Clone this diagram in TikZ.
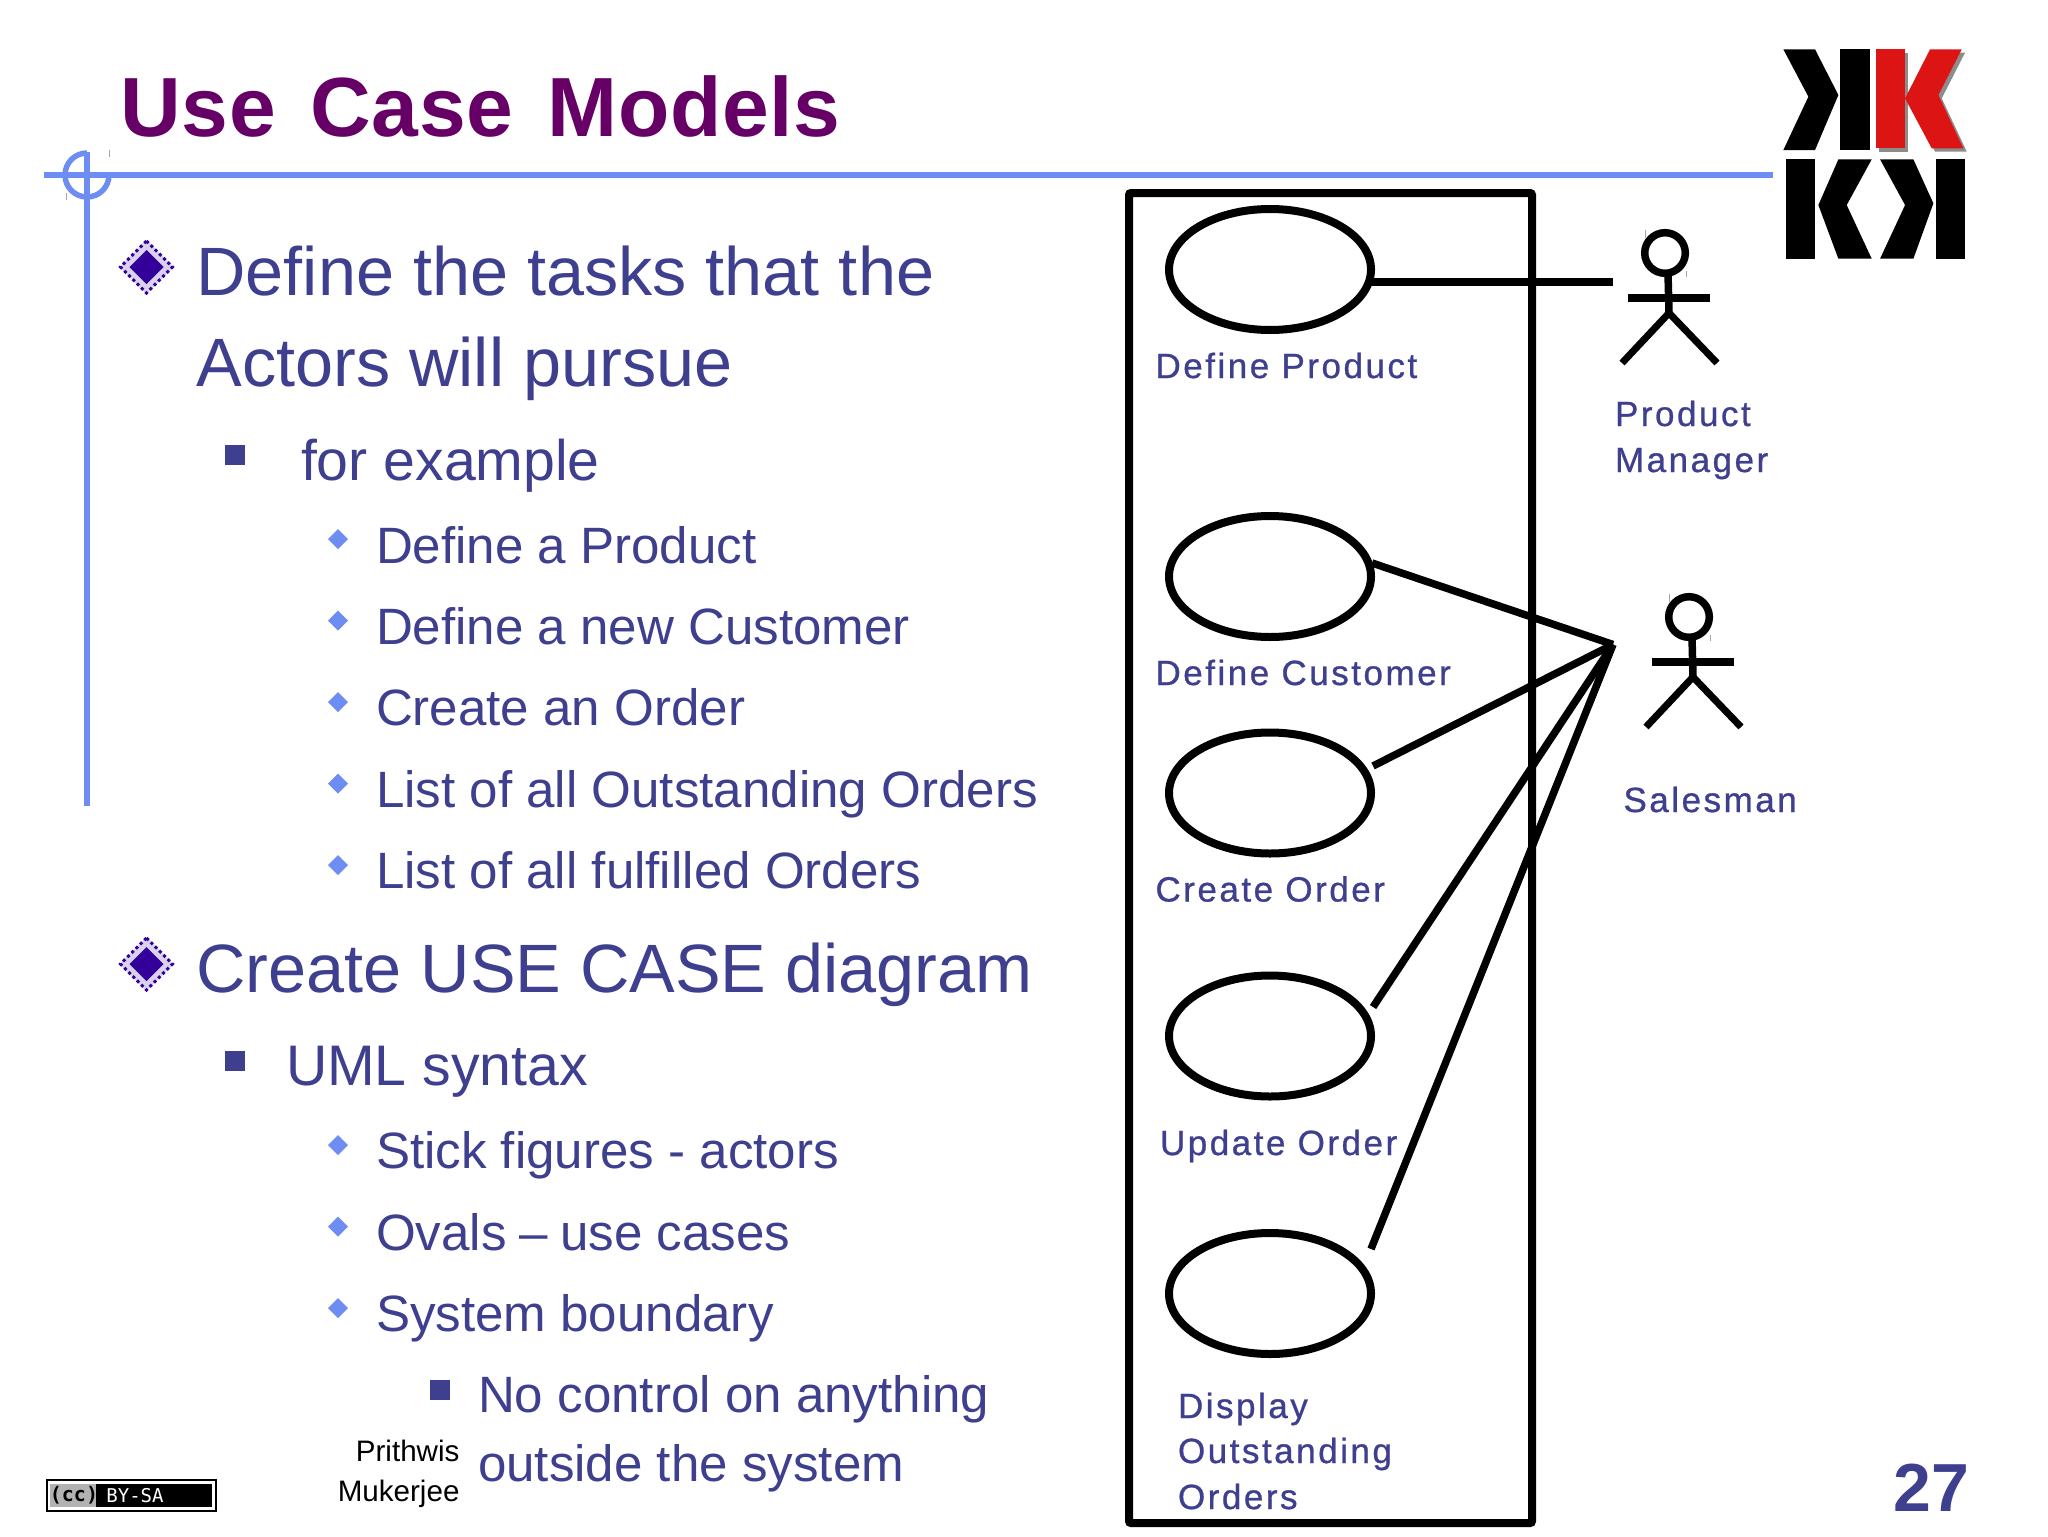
\documentclass[tikz,border=0pt]{standalone}
\usepackage{fontspec}
\setmainfont{Liberation Sans}
\newfontfamily\lblfont[LetterSpace=7.2,FakeBold=0.8]{Liberation Sans}
\newfontfamily\ttlfont[LetterSpace=0.6]{Liberation Sans}
\newfontfamily\ccfont{DejaVu Sans Mono}
\usetikzlibrary{shapes.geometric}
\definecolor{ttl}{HTML}{660066}
\definecolor{body}{HTML}{3F3F8F}
\definecolor{rule}{HTML}{6D8DF2}
\definecolor{dia}{HTML}{6D8DF2}
\definecolor{navy}{HTML}{330099}
\definecolor{logored}{HTML}{DC1414}
\tikzset{
  x=0.5pt,y=-0.5pt,
  txt/.style={anchor=base west,inner sep=0pt,outer sep=0pt,text=body},
  lone/.style={txt,font=\fontsize{34.2}{40}\selectfont},
  ltwo/.style={txt,font=\fontsize{28.6}{34}\selectfont},
  lthree/.style={txt,font=\fontsize{25.55}{30}\selectfont},
  lbl/.style={txt,font=\lblfont\fontsize{17.5}{21}\selectfont},
  foot/.style={anchor=base east,inner sep=0pt,outer sep=0pt,text=black,font=\fontsize{14.8}{18}\selectfont},
  usecase/.style={draw=black,line width=4pt,ellipse,minimum width=101pt,minimum height=60.5pt,inner sep=0pt,outer sep=0pt},
  conn/.style={draw=black,line width=3.75pt},
  bluerule/.style={draw=rule,line width=3pt},
  tick/.style={draw=black!35,line width=0.3pt},
  smalldia/.pic={\fill[dia] (0,-10)--(10,0)--(0,10)--(-10,0)--cycle;},
  sqbullet/.pic={\fill[body] (-10,-10)rectangle(10,10);},
  bigdia/.pic={
    \fill[navy!18] (0,-27)--(27,0)--(0,27)--(-27,0)--cycle;
    \draw[navy,line width=1.5pt,dash pattern=on 1.5pt off 1.5pt] (0,-26)--(26,0)--(0,26)--(-26,0)--cycle;
    \fill[navy] (0,-17)--(17,0)--(0,17)--(-17,0)--cycle;},
  actorfig/.pic={
    \draw[line width=3.75pt,black] (0,0) circle (20.3);
    \draw[line width=3.75pt,black] (3,21)--(4,60);
    \draw[line width=3.75pt,black] (-37,45)--(45,45);
    \draw[line width=3.5pt,black] (-43,110)--(4,60)--(52,110);
    \draw[tick] (-20,-23)--(-20,-15);
    \draw[tick] (21,18)--(21,24);},
}
\begin{document}
\begin{tikzpicture}
\useasboundingbox (0,0) rectangle (2048,1536);
\fill[white] (0,0) rectangle (2048,1536);
% title and rules
\node[anchor=base west,inner sep=0pt,text=ttl,font=\ttlfont\bfseries\fontsize{42}{50}\selectfont] (title) at (120.5,136) {Use\hspace{5.5pt} Case\hspace{5.5pt} Models};
\draw[bluerule] (44,175)--(1773,175);
\draw[bluerule] (87,152)--(87,806);
\draw[bluerule,line width=2.75pt] (87,153) arc[start angle=270,end angle=0,radius=22];
\draw[tick] (109,150)--(109,157);
\draw[tick] (66,193)--(66,200);
% logo
\begin{scope}[shift={(1750,20)},x=0.1667pt,y=-0.1667pt]
\fill[black!45] (388,98)--(475,98)--(475,395)--(388,395)--cycle;
\fill[black!45] (550,98)--(645,98)--(575,235)--(650,395)--(555,395)--(480,245)--cycle;
\fill[black] (100,88)--(195,88)--(265,225)--(195,390)--(100,390)--(175,230)--cycle;
\fill[black] (270,88)rectangle(360,390);
\fill[logored] (378,88)rectangle(465,385);
\fill[logored] (465,235)--(540,88)--(635,88)--(565,225)--(640,385)--(545,385)--cycle;
\fill[black] (108,418)rectangle(195,716);
\fill[black] (365,418)--(265,418)--(205,555)--(265,716)--(365,716)--(290,555)--cycle;
\fill[black] (390,418)--(490,418)--(550,550)--(490,716)--(390,716)--(465,555)--cycle;
\fill[black] (558,418)rectangle(645,716);
\end{scope}
% bullets
\pic at (146.5,267) {bigdia};
\pic at (146.5,964) {bigdia};
\pic at (235,455) {sqbullet};
\pic at (235,1060.5) {sqbullet};
\pic at (439.5,1390) {sqbullet};
\foreach \yy in {539,620.5,702,783.5,865,1145,1226.5,1308} {\pic at (338,\yy) {smalldia};}
% text
\node[lone] (t1) at (196.5,295) {Define the tasks that the};
\node[lone] (t2) at (196.5,386.5) {Actors will pursue};
\node[ltwo] (t3) at (301,480) {for example};
\node[lthree] (t4) at (376,563) {Define a Product};
\node[lthree] (t5) at (376,644) {Define a new Customer};
\node[lthree] (t6) at (376,725.5) {Create an Order};
\node[lthree] (t7) at (376,807) {List of all Outstanding Orders};
\node[lthree] (t8) at (376,888.5) {List of all fulfilled Orders};
\node[lone] (t9) at (196.5,992) {Create USE CASE diagram};
\node[ltwo] (t10) at (286,1085) {UML syntax};
\node[lthree] (t11) at (376,1168.5) {Stick figures - actors};
\node[lthree] (t12) at (376,1250) {Ovals\hspace{-.75pt} –\hspace{-.75pt} use cases};
\node[lthree] (t13) at (376,1331) {System boundary};
\node[lthree] (t14) at (478,1412) {No control on anything};
\node[lthree] (t15) at (478,1481) {outside the system};
\node[foot] (f1) at (459.5,1461) {Prithwis};
\node[foot] (f2) at (459.5,1501) {Mukerjee};
\node[anchor=base east,inner sep=0pt,text=body,font=\bfseries\fontsize{34}{40}\selectfont] (num) at (1970,1511) {27};
% cc badge
\draw[black,line width=1pt,fill=white] (47,1480) rectangle (216,1511);
\fill[black] (50,1484) rectangle (212,1507);
\fill[black!30] (50,1484) rectangle (96,1507);
\node[inner sep=0pt,text=black,font=\ccfont\bfseries\fontsize{10}{10}\selectfont] (cc) at (74,1495) {(cc)};
\node[inner sep=0pt,text=white,font=\ccfont\fontsize{9.5}{10}\selectfont] (bysa) at (135,1496) {BY-SA};
% diagram
\draw[black,line width=4pt,rounded corners=1pt] (1129,193) rectangle (1532,1523);
\node[usecase] (uc1) at (1270,269.5) {};
\node[usecase] (uc2) at (1270,576.5) {};
\node[usecase] (uc3) at (1270,793) {};
\node[usecase] (uc4) at (1270,1036) {};
\node[usecase] (uc5) at (1270,1293.5) {};
\node[lbl] (l1) at (1155.5,378) {Define Product};
\node[lbl] (l2) at (1155.5,685) {Define Customer};
\node[lbl] (l3) at (1155.5,901.5) {Create Order};
\node[lbl] (l4) at (1160,1155) {Update Order};
\node[lbl] (l5a) at (1178,1418) {Display};
\node[lbl] (l5b) at (1178,1463) {Outstanding};
\node[lbl] (l5c) at (1178,1509) {Orders};
\node[lbl] (a1a) at (1615,426) {Product};
\node[lbl] (a1b) at (1615,472) {Manager};
\node[lbl] (a2) at (1623.5,812) {Salesman};
\pic at (1665,253) {actorfig};
\pic at (1689,617) {actorfig};
\coordinate (pmhand) at (1613,282);
\coordinate (hub) at (1613,644.5);
\coordinate (s1) at (1370,282);
\coordinate (s2) at (1372,563);
\coordinate (s3) at (1373,766);
\coordinate (s4) at (1373,1007);
\coordinate (s5) at (1371,1249);
\draw[conn] (s1)--(pmhand);
\draw[conn] (s2)--(hub);
\draw[conn] (s3)--(hub);
\draw[conn] (s4)--(hub);
\draw[conn] (s5)--(hub);
\end{tikzpicture}
\end{document}
